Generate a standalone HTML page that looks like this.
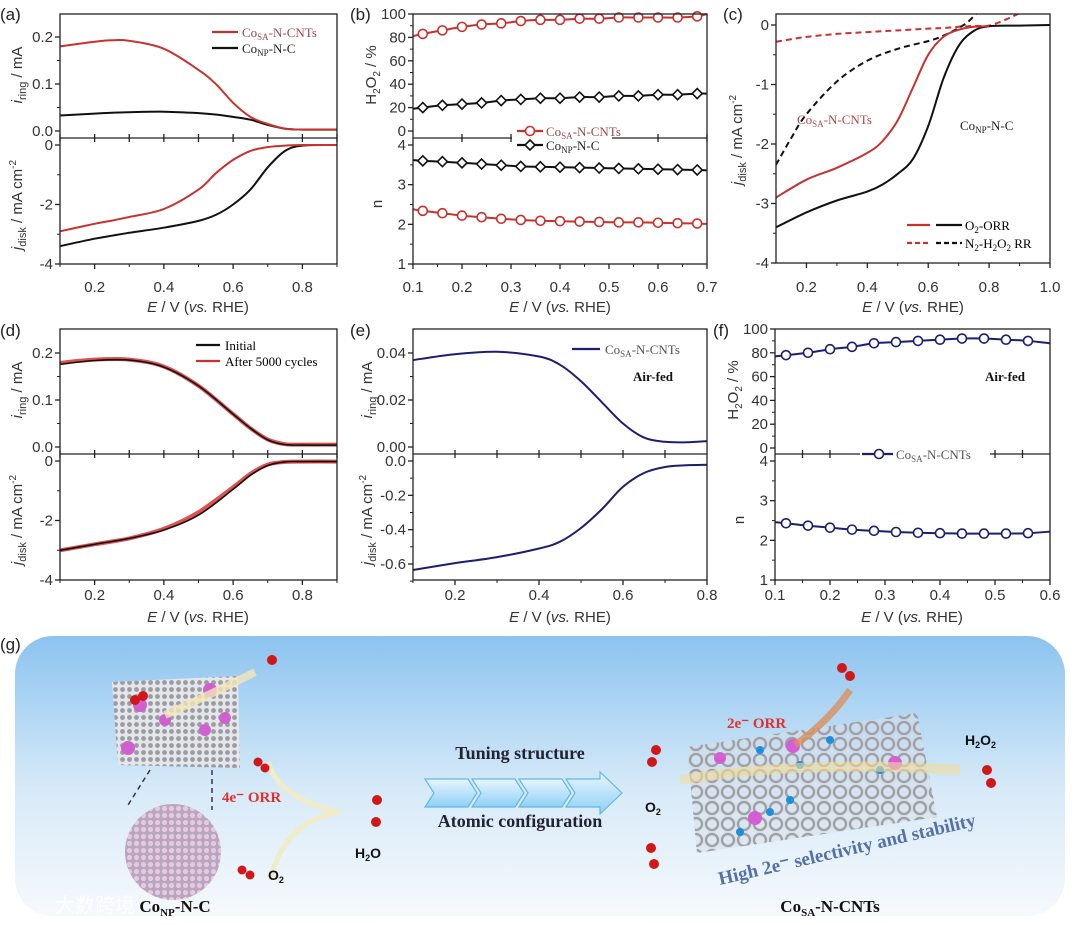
<!DOCTYPE html>
<html><head><meta charset="utf-8">
<style>
html,body{margin:0;padding:0;background:#fff;}
svg{display:block;font-family:"Liberation Sans",sans-serif;}
.tk{font-size:15px;fill:#333;}
.ttl{font-size:15px;fill:#333;}
.ser{font-family:"Liberation Serif",serif;font-size:13px;}
.pl{font-size:17px;fill:#222;}
</style></head>
<body>
<svg id="fig" width="1080" height="925" viewBox="0 0 1080 925" xmlns="http://www.w3.org/2000/svg">
<defs>
<linearGradient id="bg" x1="0" y1="0" x2="0" y2="1">
<stop offset="0" stop-color="#8cc3ef"/><stop offset="0.55" stop-color="#d7eaf8"/><stop offset="1" stop-color="#f6f9fc"/></linearGradient>
<pattern id="mesh" width="7" height="7" patternUnits="userSpaceOnUse"><rect width="7" height="7" fill="#e4e6ea"/><circle cx="3.5" cy="3.5" r="2.4" fill="#9a9ca2"/></pattern>
<pattern id="mesh2" width="7" height="7" patternUnits="userSpaceOnUse"><rect width="7" height="7" fill="#b8a6bf"/><circle cx="3.5" cy="3.5" r="2.6" fill="#e6c8e0"/></pattern>
<pattern id="tube" width="16" height="16" patternUnits="userSpaceOnUse"><circle cx="8" cy="8" r="6" fill="none" stroke="#a0a2a8" stroke-width="2.5"/></pattern>
<linearGradient id="chev" x1="0" y1="0" x2="0" y2="1"><stop offset="0" stop-color="#e8f6ff"/><stop offset="1" stop-color="#8fd0f4"/></linearGradient>
</defs>
<g id="panelG">
<rect x="15" y="636" width="1050" height="280" rx="38" fill="url(#bg)"/>
<polygon points="112,682 238,676 240,768 118,765" fill="url(#mesh)"/>
<circle cx="140" cy="705" r="7" fill="#d060d0"/><circle cx="210" cy="690" r="7" fill="#d060d0"/><circle cx="165" cy="720" r="6" fill="#d060d0"/><circle cx="128" cy="748" r="7" fill="#d060d0"/><circle cx="205" cy="730" r="6" fill="#d060d0"/><circle cx="225" cy="718" r="6" fill="#d060d0"/>
<line x1="150" y1="770" x2="128" y2="805" stroke="#335" stroke-dasharray="5,4" stroke-width="1.5"/><line x1="212" y1="770" x2="212" y2="810" stroke="#335" stroke-dasharray="5,4" stroke-width="1.5"/>
<circle cx="173" cy="852" r="48" fill="url(#mesh2)"/>
<path d="M165,715 Q220,690 255,672" stroke="#f3e6b8" stroke-width="8" fill="none" opacity="0.8"/>
<path d="M268,762 Q280,800 340,812 M270,880 Q285,820 340,812" stroke="#f0ecc8" stroke-width="5" fill="none"/>
<g fill="#d01818"><circle cx="272" cy="660" r="5"/><circle cx="135" cy="700" r="5"/><circle cx="143" cy="696" r="5"/><circle cx="258" cy="762" r="4.5"/><circle cx="265" cy="768" r="4.5"/><circle cx="242" cy="870" r="4.5"/><circle cx="250" cy="875" r="4.5"/><circle cx="377" cy="800" r="5"/><circle cx="376" cy="822" r="5"/>
<circle cx="842" cy="668" r="5"/><circle cx="850" cy="676" r="5"/><circle cx="656" cy="750" r="5"/><circle cx="652" cy="762" r="5"/><circle cx="651" cy="848" r="5"/><circle cx="654" cy="864" r="5"/><circle cx="987" cy="770" r="5"/><circle cx="991" cy="783" r="5"/></g>
<polygon points="687,747 917,713 937,817 697,853" fill="#d8dde5" opacity="0.5"/>
<polygon points="687,747 917,713 937,817 697,853" fill="url(#tube)"/>
<g fill="#1e8fe0"><circle cx="760" cy="750" r="4"/><circle cx="800" cy="765" r="4"/><circle cx="830" cy="740" r="4"/><circle cx="880" cy="770" r="4"/><circle cx="770" cy="812" r="4"/><circle cx="740" cy="832" r="4"/><circle cx="790" cy="800" r="4"/></g>
<g fill="#d45ed4"><circle cx="793" cy="746" r="7"/><circle cx="895" cy="763" r="7"/><circle cx="755" cy="818" r="7"/><circle cx="720" cy="758" r="6"/></g>
<path d="M680,780 Q800,760 960,770" stroke="#f2dc9a" stroke-width="10" fill="none" opacity="0.6"/>
<path d="M795,745 Q830,720 850,690" stroke="#d99060" stroke-width="7" fill="none" opacity="0.8"/>
<g stroke="#60b8e8" stroke-width="1.2" fill="url(#chev)">
<polygon points="425,779 468,779 477,793 468,807 425,807 434,793"/><polygon points="472,779 515,779 524,793 515,807 472,807 481,793"/><polygon points="519,779 562,779 571,793 562,807 519,807 528,793"/><polygon points="566,779 600,779 600,772 622,793 600,814 600,807 566,807 575,793"/></g>
<g font-family="Liberation Serif, serif" font-weight="bold">
<text x="520" y="759" text-anchor="middle" font-size="18" fill="#223">Tuning structure</text>
<text x="520" y="827" text-anchor="middle" font-size="18" fill="#223">Atomic configuration</text>
<text x="222" y="802" font-size="15" fill="#e03030">4e⁻ ORR</text>
<text x="727" y="728" font-size="15" fill="#e03030">2e⁻ ORR</text>
<text x="175" y="912" text-anchor="middle" font-size="17" fill="#111">Co<tspan font-size="11" dy="4">NP</tspan><tspan dy="-4">-N-C</tspan></text>
<text x="830" y="912" text-anchor="middle" font-size="17" fill="#111">Co<tspan font-size="11" dy="4">SA</tspan><tspan dy="-4">-N-CNTs</tspan></text>
<text x="0" y="0" font-size="19" fill="#5570a8" transform="translate(720,885) rotate(-13)">High 2e⁻  selectivity and stability</text>
</g>
<g font-size="14" font-weight="bold" fill="#111">
<text x="355" y="858">H<tspan font-size="9" dy="3">2</tspan><tspan dy="-3">O</tspan></text>
<text x="268" y="880">O<tspan font-size="9" dy="3">2</tspan></text>
<text x="645" y="812">O<tspan font-size="9" dy="3">2</tspan></text>
<text x="965" y="745">H<tspan font-size="9" dy="3">2</tspan><tspan dy="-3">O</tspan><tspan font-size="9" dy="3">2</tspan></text>
</g>
<text x="55" y="912" font-family="Liberation Sans, Noto Sans CJK SC, sans-serif" font-size="20" fill="#ffffff" opacity="0.85">大数跨境</text>
<text x="0" y="650" class="pl">(g)</text>
</g>
</svg>
<script>
// ---------- data ----------
const aX=[0.1,0.2,0.25,0.3,0.4,0.5,0.55,0.6,0.65,0.7,0.75,0.8,0.9];
const aRingSA=[0.18,0.19,0.193,0.192,0.175,0.13,0.1,0.06,0.03,0.015,0.005,0.003,0.003];
const aRingNP=[0.033,0.037,0.039,0.04,0.041,0.038,0.035,0.03,0.024,0.013,0.005,0.003,0.003];
const aDiskSA=[-2.9,-2.65,-2.54,-2.42,-2.15,-1.5,-0.95,-0.5,-0.2,-0.07,-0.02,0,0];
const aDiskNP=[-3.4,-3.15,-3.05,-2.95,-2.78,-2.55,-2.35,-2.0,-1.5,-0.75,-0.2,-0.02,0];
const bX=[0.12,0.16,0.2,0.24,0.28,0.32,0.36,0.4,0.44,0.48,0.52,0.56,0.6,0.64,0.68];
const bH2O2SA=[83,86,89,91,92,94,95,95,96,96,97,97,97,97,98];
const bH2O2NP=[20,22,23,24,26,27,28,28,29,29,30,30,31,31,32];
const bNSA=[2.34,2.28,2.22,2.18,2.14,2.11,2.09,2.08,2.07,2.06,2.05,2.05,2.04,2.03,2.02];
const bNNP=[3.6,3.58,3.55,3.52,3.49,3.46,3.45,3.44,3.43,3.42,3.41,3.4,3.39,3.38,3.37];
const cX=[0.1,0.2,0.3,0.4,0.45,0.5,0.55,0.6,0.65,0.7,0.75,0.8,0.9,1.0];
const cOrrSA=[-2.9,-2.6,-2.4,-2.15,-1.95,-1.6,-1.05,-0.5,-0.2,-0.08,-0.03,-0.02,null,null];
const cOrrNP=[-3.4,-3.15,-2.95,-2.8,-2.68,-2.5,-2.25,-1.7,-0.9,-0.35,-0.1,-0.02,-0.01,0];
const cN2X=[0.1,0.15,0.2,0.3,0.4,0.5,0.6,0.65,0.7,0.73,0.76,0.8,0.85,0.9];
const cN2SA=[-0.28,-0.24,-0.2,-0.15,-0.12,-0.09,-0.06,-0.05,-0.03,-0.02,-0.015,-0.01,0.08,0.2];
const cN2NP=[-2.35,-1.9,-1.5,-0.95,-0.6,-0.4,-0.27,-0.18,-0.05,0.05,0.2,null,null,null];
const dX=[0.1,0.2,0.3,0.4,0.5,0.6,0.65,0.7,0.75,0.8,0.9];
const dRingInit=[0.176,0.184,0.185,0.17,0.13,0.07,0.04,0.015,0.005,0.004,0.004];
const dRingAfter=[0.179,0.186,0.186,0.171,0.13,0.07,0.04,0.016,0.006,0.005,0.005];
const dDiskInit=[-3.0,-2.8,-2.6,-2.32,-1.82,-0.95,-0.48,-0.15,-0.03,-0.02,-0.02];
const dDiskAfter=[-3.0,-2.8,-2.6,-2.28,-1.72,-0.88,-0.43,-0.12,-0.03,-0.02,-0.02];
const eX=[0.1,0.2,0.3,0.4,0.45,0.5,0.55,0.6,0.65,0.7,0.75,0.8];
const eRing=[0.037,0.0395,0.0405,0.0385,0.035,0.028,0.019,0.01,0.004,0.0022,0.002,0.0025];
const eDisk=[-0.635,-0.595,-0.56,-0.51,-0.47,-0.39,-0.28,-0.15,-0.07,-0.035,-0.025,-0.022];
const fX=[0.1,0.12,0.16,0.2,0.24,0.28,0.32,0.36,0.4,0.44,0.48,0.52,0.56,0.6];
const fH2O2=[77,78,80,83,85,88,89,90,91,92,92,91,90,88];
const fN=[2.46,2.43,2.37,2.32,2.27,2.24,2.21,2.19,2.18,2.17,2.17,2.17,2.18,2.22];
// ---------- helpers ----------
const NS='http://www.w3.org/2000/svg';
const svg=document.getElementById('fig');
function el(tag,attrs,parent){const e=document.createElementNS(NS,tag);for(const k in attrs)e.setAttribute(k,attrs[k]);(parent||svg).appendChild(e);return e;}
function lin(d0,d1,r0,r1){return v=>r0+(v-d0)*(r1-r0)/(d1-d0);}
function smooth(pts){if(pts.length<2)return'';let d='M'+pts[0][0].toFixed(1)+','+pts[0][1].toFixed(1);
for(let i=0;i<pts.length-1;i++){const p0=pts[i-1]||pts[i],p1=pts[i],p2=pts[i+1],p3=pts[i+2]||p2;
const c1=[p1[0]+(p2[0]-p0[0])/6,p1[1]+(p2[1]-p0[1])/6],c2=[p2[0]-(p3[0]-p1[0])/6,p2[1]-(p3[1]-p1[1])/6];
d+=' C'+c1[0].toFixed(1)+','+c1[1].toFixed(1)+' '+c2[0].toFixed(1)+','+c2[1].toFixed(1)+' '+p2[0].toFixed(1)+','+p2[1].toFixed(1);}return d;}
function series(g,xs,ys,sx,sy,color,name,opts){opts=opts||{};const pts=[];xs.forEach((x,i)=>{if(ys[i]!==null&&ys[i]!==undefined)pts.push([sx(x),sy(ys[i])]);});
const p=el('path',{d:smooth(pts),fill:'none',stroke:color,'stroke-width':opts.w||2,'stroke-dasharray':opts.dash||'none'},g);


if(opts.markers){pts.forEach((pt,i)=>{if(opts.skipFirst&&i===0)return;if(opts.skipLast&&i===pts.length-1)return;let m;
if(opts.markers==='circle')m=el('circle',{cx:pt[0],cy:pt[1],r:4.5,fill:'#fff',stroke:color,'stroke-width':1.6},g);
else m=el('polygon',{points:`${pt[0]},${pt[1]-5} ${pt[0]+5},${pt[1]} ${pt[0]},${pt[1]+5} ${pt[0]-5},${pt[1]}`,fill:'#fff',stroke:color,'stroke-width':1.6},g);

});}}
function yAxis(g,x,sy,ticks,labels,minor,opts){opts=opts||{};ticks.forEach((t,i)=>{el('line',{x1:x-5,x2:x,y1:sy(t),y2:sy(t),stroke:'#222','stroke-width':1.3},g);
const tx=el('text',{x:x-7,y:sy(t)+5,'text-anchor':'end',class:'tk'},g);tx.textContent=labels[i];

});
(minor||[]).forEach(t=>el('line',{x1:x-3,x2:x,y1:sy(t),y2:sy(t),stroke:'#222','stroke-width':1},g));}
function xAxis(g,y,sx,ticks,labels,minor,labY){ticks.forEach((t,i)=>{el('line',{x1:sx(t),x2:sx(t),y1:y,y2:y+5,stroke:'#222','stroke-width':1.3},g);
if(labels){const tx=el('text',{x:sx(t),y:labY,'text-anchor':'middle',class:'tk'},g);tx.textContent=labels[i];

}});
(minor||[]).forEach(t=>el('line',{x1:sx(t),x2:sx(t),y1:y,y2:y+3,stroke:'#222','stroke-width':1},g));}
function sepTicks(g,y,sx,ticks){ticks.forEach(t=>el('line',{x1:sx(t),x2:sx(t),y1:y-4,y2:y+4,stroke:'#222','stroke-width':1.3},g));}
function box(g,x0,y0,x1,y1){el('rect',{x:x0,y:y0,width:x1-x0,height:y1-y0,fill:'none',stroke:'#222','stroke-width':1.3},g);}
function hline(g,x0,x1,y){el('line',{x1:x0,x2:x1,y1:y,y2:y,stroke:'#222','stroke-width':1.3},g);}
function rtext(g,x,y,html,name){const t=el('text',{x:0,y:0,transform:`translate(${x},${y}) rotate(-90)`,'text-anchor':'middle',class:'ttl'},g);t.innerHTML=html;

}
function ttext(g,x,y,html,name,cls,extra){const a=Object.assign({x:x,y:y,class:cls||'ttl'},extra||{});const t=el('text',a,g);t.innerHTML=html;

return t;}
function legLine(g,x0,x1,y,color,dash){el('line',{x1:x0,x2:x1,y1:y,y2:y,stroke:color,'stroke-width':2.2,'stroke-dasharray':dash||'none'},g);}
const ETITLE='<tspan font-style="italic">E</tspan> / V (<tspan font-style="italic">vs.</tspan> RHE)';
const RING='<tspan font-style="italic">i</tspan><tspan font-size="11" dy="4">ring</tspan><tspan dy="-4"> / mA</tspan>';
const DISK='<tspan font-style="italic">j</tspan><tspan font-size="11" dy="4">disk</tspan><tspan dy="-4"> / mA cm</tspan><tspan font-size="10" dy="-6">-2</tspan>';
const H2O2='H<tspan font-size="10" dy="4">2</tspan><tspan dy="-4">O</tspan><tspan font-size="10" dy="4">2</tspan><tspan dy="-4"> / %</tspan>';
const SA='Co<tspan font-size="9" dy="3">SA</tspan><tspan dy="-3">-N-CNTs</tspan>';
const NP='Co<tspan font-size="9" dy="3">NP</tspan><tspan dy="-3">-N-C</tspan>';
const RED='#c8322e',NAVY='#1c1f6e';
const x19=[0.2,0.4,0.6,0.8],x19l=['0.2','0.4','0.6','0.8'],x19m=[0.1,0.3,0.5,0.7,0.9];
// ---------- panel a ----------
(function(){const g=el('g',{});
const sx=lin(0.1,0.9,60,337),syT=lin(0,0.2,131,37),syB=lin(0,-4,145,264);
series(g,aX,aRingNP,sx,syT,'#111','ring-conp');series(g,aX,aRingSA,sx,syT,RED,'ring-cosa');
series(g,aX,aDiskNP,sx,syB,'#111','disk-conp');series(g,aX,aDiskSA,sx,syB,RED,'disk-cosa');
box(g,60,14,337,264);hline(g,60,337,138);sepTicks(g,138,sx,x19.concat(x19m));
yAxis(g,60,syT,[0,0.1,0.2],['0.0','0.1','0.2'],[0.05,0.15]);yAxis(g,60,syB,[0,-2,-4],['0','-2','-4'],[-1,-3]);
xAxis(g,264,sx,x19,x19l,x19m,292);ttext(g,198,312,ETITLE,'x-axis-title',null,{'text-anchor':'middle'});
rtext(g,22,75,RING,'y-axis-title-ring');rtext(g,22,205,DISK,'y-axis-title-disk');
legLine(g,212,238,32,RED);ttext(g,242,37,SA,'legend-cosa','ser',{fill:'#a04848'});
legLine(g,212,238,48,'#111');ttext(g,242,53,NP,'legend-conp','ser',{fill:'#222'});
ttext(g,0,20,'(a)','panel-label-a','pl');})();
// ---------- panel b ----------
(function(){const g=el('g',{});
const sx=lin(0.1,0.7,413,707),syT=lin(0,100,131,14),syB=lin(1,4,264,145);
const bxl=[0.1].concat(bX,[0.7]);
series(g,bxl,[81].concat(bH2O2SA,[100]),sx,syT,RED,'h2o2-cosa',{markers:'circle',skipFirst:true,skipLast:true});
series(g,bxl,[19].concat(bH2O2NP,[32]),sx,syT,'#111','h2o2-conp',{markers:'diamond',skipFirst:true,skipLast:true});
series(g,bxl,[2.38].concat(bNSA,[2.01]),sx,syB,RED,'n-cosa',{markers:'circle',skipFirst:true,skipLast:true});
series(g,bxl,[3.62].concat(bNNP,[3.36]),sx,syB,'#111','n-conp',{markers:'diamond',skipFirst:true,skipLast:true});
box(g,413,14,707,264);hline(g,413,707,138);
const xt=[0.1,0.2,0.3,0.4,0.5,0.6,0.7];sepTicks(g,138,sx,[0.2,0.3,0.4,0.6,0.7]);
yAxis(g,413,syT,[0,20,40,60,80,100],['0','20','40','60','80','100'],[10,30,50,70,90]);
yAxis(g,413,syB,[1,2,3,4],['1','2','3','4'],[1.5,2.5,3.5]);
xAxis(g,264,sx,xt,xt.map(v=>v.toFixed(1)),[0.15,0.25,0.35,0.45,0.55,0.65],292);
ttext(g,560,312,ETITLE,'x-axis-title',null,{'text-anchor':'middle'});
rtext(g,376,75,H2O2,'y-axis-title-h2o2');rtext(g,382,204,'n','y-axis-title-n');
el('rect',{x:512,y:124,width:100,height:26,fill:'#fff'},g);
legLine(g,517,543,131,RED);el('circle',{cx:530,cy:131,r:4.5,fill:'#fff',stroke:RED,'stroke-width':1.6},g);ttext(g,546,136,SA,'legend-cosa','ser',{fill:'#a04848'});
legLine(g,517,543,145,'#111');el('polygon',{points:'530,140 535,145 530,150 525,145',fill:'#fff',stroke:'#111','stroke-width':1.6},g);ttext(g,546,150,NP,'legend-conp','ser',{fill:'#222'});
ttext(g,350,20,'(b)','panel-label-b','pl');})();
// ---------- panel c ----------
(function(){const g=el('g',{});
const sx=lin(0.1,1.0,776,1050),sy=lin(0,-4,25,263);
el('clipPath',{id:'clipc'},g);el('rect',{x:776,y:14,width:274,height:249},g.lastChild);
const cg=el('g',{'clip-path':'url(#clipc)'},g);
series(cg,cN2X,cN2SA,sx,sy,RED,'n2-h2o2rr-cosa',{dash:'6,4'});series(cg,cN2X,cN2NP,sx,sy,'#111','n2-h2o2rr-conp',{dash:'6,4'});
series(cg,cX,cOrrNP,sx,sy,'#111','orr-conp');series(cg,cX,cOrrSA,sx,sy,RED,'orr-cosa');
box(g,776,14,1050,263);
yAxis(g,776,sy,[0,-1,-2,-3,-4],['0','-1','-2','-3','-4'],[-0.5,-1.5,-2.5,-3.5]);
xAxis(g,263,sx,[0.2,0.4,0.6,0.8,1.0],['0.2','0.4','0.6','0.8','1.0'],[0.3,0.5,0.7,0.9],292);
ttext(g,913,312,ETITLE,'x-axis-title',null,{'text-anchor':'middle'});
rtext(g,742,140,DISK,'y-axis-title-disk');
ttext(g,797,124,SA,'label-cosa','ser',{fill:'#b04848','font-size':'14'});ttext(g,960,130,NP,'label-conp','ser',{fill:'#222','font-size':'14'});
legLine(g,907,930,225,RED);legLine(g,936,962,225,'#111');ttext(g,965,230,'O<tspan font-size="9" dy="3">2</tspan><tspan dy="-3">-ORR</tspan>','legend-orr','ser');
legLine(g,907,930,243,RED,'5,3');legLine(g,936,962,243,'#111','5,3');ttext(g,965,248,'N<tspan font-size="9" dy="3">2</tspan><tspan dy="-3">-H</tspan><tspan font-size="9" dy="3">2</tspan><tspan dy="-3">O</tspan><tspan font-size="9" dy="3">2</tspan><tspan dy="-3"> RR</tspan>','legend-h2o2rr','ser');
ttext(g,723,20,'(c)','panel-label-c','pl');})();
// ---------- panel d ----------
(function(){const g=el('g',{});
const sx=lin(0.1,0.9,60,337),syT=lin(0,0.2,447,353),syB=lin(0,-4,461,580);
series(g,dX,dRingAfter,sx,syT,'#e05050','ring-after',{w:4});series(g,dX,dRingInit,sx,syT,'#111','ring-initial',{w:1.6});
series(g,dX,dDiskAfter,sx,syB,'#e05050','disk-after',{w:4});series(g,dX,dDiskInit,sx,syB,'#111','disk-initial',{w:1.6});
box(g,60,329,337,580);hline(g,60,337,454);sepTicks(g,454,sx,x19.concat(x19m));
yAxis(g,60,syT,[0,0.1,0.2],['0.0','0.1','0.2'],[0.05,0.15]);yAxis(g,60,syB,[0,-2,-4],['0','-2','-4'],[-1,-3]);
xAxis(g,580,sx,x19,x19l,x19m,600);ttext(g,198,622,ETITLE,'x-axis-title',null,{'text-anchor':'middle'});
rtext(g,22,390,RING,'y-axis-title-ring');rtext(g,22,520,DISK,'y-axis-title-disk');
legLine(g,196,220,345,'#111');ttext(g,225,350,'Initial','legend-initial','ser');
legLine(g,196,220,361,RED);ttext(g,225,366,'After 5000 cycles','legend-after','ser');
ttext(g,0,336,'(d)','panel-label-d','pl');})();
// ---------- panel e ----------
(function(){const g=el('g',{});
const sx=lin(0.1,0.8,413,707),syT=lin(0,0.04,447,353),syB=lin(0,-0.6,461,564);
series(g,eX,eRing,sx,syT,NAVY,'ring-cosa');series(g,eX,eDisk,sx,syB,NAVY,'disk-cosa');
box(g,413,329,707,580);hline(g,413,707,454);sepTicks(g,454,sx,[0.2,0.3,0.4,0.5,0.6,0.7]);
yAxis(g,413,syT,[0,0.02,0.04],['0.00','0.02','0.04'],[0.01,0.03]);
yAxis(g,413,syB,[0,-0.2,-0.4,-0.6],['0.0','-0.2','-0.4','-0.6'],[-0.1,-0.3,-0.5,-0.7]);
xAxis(g,580,sx,[0.2,0.4,0.6,0.8],['0.2','0.4','0.6','0.8'],[0.1,0.3,0.5,0.7],600);
ttext(g,560,622,ETITLE,'x-axis-title',null,{'text-anchor':'middle'});
rtext(g,372,390,RING,'y-axis-title-ring');rtext(g,372,520,DISK,'y-axis-title-disk');
legLine(g,572,600,349,NAVY);ttext(g,605,354,SA,'legend-cosa','ser',{fill:'#555'});
ttext(g,633,381,'Air-fed','air-fed-label','ser',{'font-weight':'bold','font-size':'14',fill:'#111'});
ttext(g,350,336,'(e)','panel-label-e','pl');})();
// ---------- panel f ----------
(function(){const g=el('g',{});
const sx=lin(0.1,0.6,775,1050),syT=lin(0,100,448,329),syB=lin(1,4,580,461);
series(g,fX,fH2O2,sx,syT,NAVY,'h2o2-cosa',{markers:'circle',skipFirst:true,skipLast:true});
series(g,fX,fN,sx,syB,NAVY,'n-cosa',{markers:'circle',skipFirst:true,skipLast:true});
box(g,775,329,1050,580);hline(g,775,1050,454);sepTicks(g,454,sx,[0.15,0.2,0.45,0.5,0.55]);
yAxis(g,775,syT,[0,20,40,60,80,100],['0','20','40','60','80','100'],[10,30,50,70,90]);
yAxis(g,775,syB,[1,2,3,4],['1','2','3','4'],[1.5,2.5,3.5]);
const xt=[0.1,0.2,0.3,0.4,0.5,0.6];
xAxis(g,580,sx,xt,xt.map(v=>v.toFixed(1)),[0.15,0.25,0.35,0.45,0.55],600);
ttext(g,912,622,ETITLE,'x-axis-title',null,{'text-anchor':'middle'});
rtext(g,738,390,H2O2,'y-axis-title-h2o2');rtext(g,744,520,'n','y-axis-title-n');
el('rect',{x:860,y:447,width:130,height:15,fill:'#fff'},g);
legLine(g,862,893,454,NAVY);el('circle',{cx:879,cy:454,r:4.5,fill:'#fff',stroke:NAVY,'stroke-width':1.6},g);
ttext(g,896,459,SA,'legend-cosa','ser',{fill:'#555'});
ttext(g,985,381,'Air-fed','air-fed-label','ser',{'font-weight':'bold','font-size':'14',fill:'#111'});
ttext(g,713,336,'(f)','panel-label-f','pl');})();
</script>
</body></html>
